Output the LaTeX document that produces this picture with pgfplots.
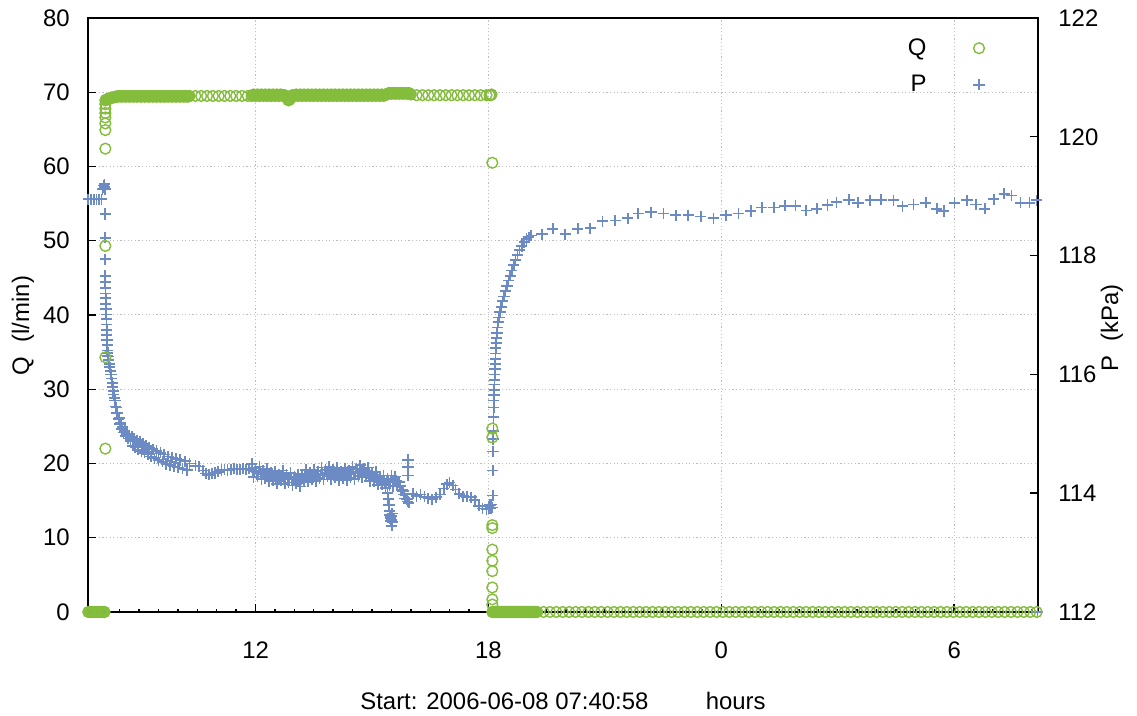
\documentclass[border=0pt]{standalone}
\usepackage{fontspec}
\setmainfont{Liberation Sans}
\usepackage{pgfplots}
\usepackage{pgfplotstable}
\pgfplotsset{compat=1.18}
\definecolor{qgreen}{RGB}{132,189,60}
\definecolor{pblue}{RGB}{108,138,196}
\definecolor{gridgray}{RGB}{190,190,190}

\pgfplotstableread{
h P
7.69 118.95
7.76 118.95
7.83 118.95
7.90 118.95
7.97 118.95
8.03 118.95
8.06 119.12
8.08 119.18
8.10 119.15
8.11 119.20
8.12 119.12
8.125 118.70
8.125 118.30
8.13 117.94
8.13 117.66
8.13 117.55
8.132 117.45
8.136 117.36
8.140 117.28
8.144 117.19
8.148 117.10
8.152 117.01
8.156 116.93
8.160 116.84
8.164 116.75
8.168 116.66
8.172 116.58
8.176 116.49
8.180 116.40
8.185 116.31
8.190 116.36
8.200 116.30
8.215 116.24
8.230 116.18
8.245 116.12
8.260 116.06
8.275 116.00
8.290 115.93
8.305 115.86
8.320 115.79
8.335 115.72
8.350 115.66
8.365 115.60
8.380 115.56
8.395 115.46
8.410 115.44
8.425 115.35
8.445 115.35
8.465 115.25
8.485 115.26
8.505 115.16
8.525 115.18
8.550 115.08
8.575 115.11
8.600 115.02
8.630 115.05
8.660 114.96
8.690 115.00
8.720 114.92
8.750 114.96
8.780 114.88
8.810 114.95
8.840 114.80
8.870 114.92
8.900 114.77
8.940 114.89
8.980 114.73
9.020 114.86
9.060 114.71
9.100 114.83
9.140 114.68
9.180 114.80
9.220 114.65
9.260 114.77
9.300 114.62
9.350 114.74
9.400 114.59
9.450 114.71
9.500 114.56
9.550 114.68
9.600 114.53
9.650 114.65
9.700 114.49
9.750 114.62
9.800 114.47
9.850 114.60
9.900 114.45
9.950 114.58
10.00 114.43
10.06 114.56
10.12 114.41
10.18 114.54
10.24 114.39
10.30 114.50
10.45 114.46
10.55 114.45
10.65 114.38
10.72 114.33
10.80 114.31
10.88 114.33
10.96 114.34
11.04 114.36
11.12 114.39
11.20 114.40
11.28 114.39
11.36 114.40
11.44 114.41
11.52 114.40
11.60 114.40
11.68 114.41
11.76 114.40
11.84 114.41
11.90 114.49
11.95 114.27
12.00 114.42
12.05 114.28
12.10 114.45
12.15 114.24
12.20 114.38
12.25 114.25
12.30 114.41
12.35 114.20
12.40 114.34
12.45 114.21
12.50 114.37
12.55 114.16
12.60 114.32
12.65 114.21
12.70 114.38
12.75 114.16
12.80 114.31
12.85 114.18
12.90 114.34
12.95 114.13
13.00 114.28
13.05 114.16
13.10 114.32
13.15 114.11
13.20 114.29
13.25 114.20
13.30 114.39
13.35 114.19
13.40 114.35
13.45 114.23
13.50 114.40
13.55 114.20
13.60 114.37
13.65 114.25
13.70 114.43
13.75 114.23
13.80 114.39
13.85 114.28
13.90 114.45
13.95 114.24
14.00 114.39
14.05 114.26
14.10 114.43
14.15 114.22
14.20 114.37
14.25 114.25
14.30 114.42
14.35 114.22
14.40 114.38
14.45 114.26
14.50 114.44
14.55 114.24
14.60 114.41
14.65 114.29
14.70 114.47
14.75 114.27
14.80 114.42
14.85 114.28
14.90 114.43
14.95 114.20
15.00 114.34
15.05 114.20
15.10 114.36
15.15 114.14
15.20 114.28
15.25 114.15
15.30 114.30
15.35 114.09
15.40 114.24
15.45 114.13
15.50 114.30
15.55 114.11
15.60 114.28
15.65 114.13
15.70 114.19
15.75 114.05
15.80 114.04
15.85 113.91
15.90 113.90
15.95 113.84
11.925 114.38
11.975 114.37
12.025 114.36
12.075 114.35
12.125 114.34
12.175 114.33
12.225 114.32
12.275 114.31
12.325 114.30
12.375 114.29
12.425 114.28
12.475 114.28
12.525 114.27
12.575 114.27
12.625 114.27
12.675 114.28
12.725 114.27
12.775 114.26
12.825 114.25
12.875 114.24
12.925 114.23
12.975 114.23
13.025 114.23
13.075 114.22
13.125 114.22
13.175 114.23
13.225 114.25
13.275 114.28
13.325 114.29
13.375 114.29
13.425 114.30
13.475 114.30
13.525 114.30
13.575 114.31
13.625 114.32
13.675 114.32
13.725 114.33
13.775 114.33
13.825 114.34
13.875 114.35
13.925 114.35
13.975 114.34
14.025 114.33
14.075 114.33
14.125 114.33
14.175 114.32
14.225 114.32
14.275 114.31
14.325 114.32
14.375 114.32
14.425 114.33
14.475 114.33
14.525 114.34
14.575 114.35
14.625 114.35
14.675 114.36
14.725 114.37
14.775 114.37
14.825 114.35
14.875 114.33
14.925 114.32
14.975 114.30
15.025 114.28
15.075 114.26
15.125 114.25
15.175 114.23
15.225 114.22
15.275 114.21
15.325 114.19
15.375 114.19
15.425 114.19
15.475 114.20
15.525 114.21
15.575 114.22
15.625 114.21
15.675 114.18
15.725 114.12
15.775 114.05
15.825 113.98
15.875 113.91
15.925 113.86
15.40 114.00
15.42 113.90
15.44 113.80
15.45 113.70
15.46 113.63
15.47 113.58
15.48 113.53
15.49 113.61
15.50 113.55
15.51 113.45
15.52 113.66
15.53 113.51
15.93 114.56
15.93 114.44
15.93 114.30
16.05 113.99
16.15 113.95
16.25 113.98
16.35 113.94
16.45 113.91
16.55 113.90
16.65 113.93
16.75 113.98
16.85 114.08
16.93 114.15
17.00 114.18
17.08 114.13
17.15 114.06
17.25 113.99
17.35 113.95
17.45 113.94
17.55 113.93
17.65 113.88
17.75 113.79
17.85 113.74
17.95 113.73
18.00 113.78
18.02 113.74
18.04 113.80
18.06 113.75
18.08 113.81
18.10 113.76
18.11 113.96
18.11 114.38
18.12 114.70
18.12 114.91
18.13 115.05
18.13 115.28
18.14 115.44
18.14 115.56
18.145 115.65
18.15 115.74
18.155 115.83
18.16 115.91
18.165 116.00
18.17 116.09
18.175 116.18
18.18 116.26
18.185 116.35
18.19 116.44
18.20 116.53
18.21 116.61
18.22 116.70
18.23 116.79
18.25 116.88
18.27 116.96
18.30 117.05
18.33 117.14
18.36 117.23
18.40 117.31
18.44 117.40
18.48 117.49
18.52 117.58
18.56 117.66
18.60 117.75
18.65 117.84
18.70 117.93
18.75 118.01
18.80 118.09
18.86 118.16
18.92 118.23
18.98 118.28
19.04 118.31
19.10 118.34
19.38 118.36
19.66 118.45
19.98 118.36
20.30 118.45
20.62 118.46
20.94 118.58
21.27 118.59
21.59 118.63
21.86 118.71
22.19 118.73
22.51 118.71
22.83 118.68
23.15 118.68
23.47 118.66
23.80 118.63
24.12 118.68
24.44 118.71
24.76 118.75
25.04 118.81
25.36 118.81
25.64 118.84
25.91 118.84
26.19 118.76
26.46 118.79
26.74 118.85
26.97 118.90
27.29 118.94
27.52 118.89
27.84 118.93
28.12 118.94
28.44 118.93
28.67 118.83
28.95 118.86
29.27 118.89
29.55 118.79
29.73 118.75
30.01 118.89
30.33 118.93
30.56 118.86
30.79 118.79
31.02 118.95
31.29 119.04
31.48 119.01
31.71 118.89
31.94 118.89
32.12 118.93
32.15 112.00
}\Pdata

\pgfplotstableread{
h Q
7.69 0
7.72 0
7.75 0
7.78 0
7.81 0
7.84 0
7.87 0
7.90 0
7.93 0
7.96 0
7.99 0
8.02 0
8.05 0
8.08 0
8.11 0
8.13 22.0
8.13 34.3
8.13 49.3
8.13 62.4
8.13 64.9
8.13 65.8
8.13 66.6
8.13 67.2
8.13 67.8
8.13 68.4
8.13 68.9
8.15 69.0
8.20 69.1
8.25 69.2
8.30 69.3
8.35 69.3
8.40 69.4
8.45 69.4
8.50 69.5
8.55 69.4
8.60 69.5
8.65 69.4
8.70 69.5
8.75 69.4
8.80 69.5
8.85 69.4
8.90 69.5
8.95 69.4
9.00 69.5
9.05 69.4
9.10 69.5
9.15 69.4
9.20 69.5
9.25 69.4
9.30 69.5
9.35 69.4
9.40 69.5
9.45 69.4
9.50 69.5
9.55 69.4
9.60 69.5
9.65 69.4
9.70 69.5
9.75 69.4
9.80 69.5
9.85 69.4
9.90 69.5
9.95 69.4
10.00 69.5
10.05 69.4
10.10 69.5
10.15 69.4
10.20 69.5
10.25 69.4
10.30 69.5
8.175 69.05
8.225 69.15
8.275 69.25
8.325 69.3
8.375 69.35
8.425 69.45
8.475 69.45
8.525 69.45
8.575 69.45
8.625 69.45
8.675 69.45
8.725 69.45
8.775 69.45
8.825 69.45
8.875 69.45
8.925 69.45
8.975 69.45
9.025 69.45
9.075 69.45
9.125 69.45
9.175 69.45
9.225 69.45
9.275 69.45
9.325 69.45
9.375 69.45
9.425 69.45
9.475 69.45
9.525 69.45
9.575 69.45
9.625 69.45
9.675 69.45
9.725 69.45
9.775 69.45
9.825 69.45
9.875 69.45
9.925 69.45
9.975 69.45
10.025 69.45
10.075 69.45
10.125 69.45
10.175 69.45
10.225 69.45
10.275 69.45
10.45 69.5
10.60 69.5
10.75 69.5
10.90 69.5
11.05 69.5
11.20 69.5
11.35 69.5
11.50 69.5
11.65 69.5
11.80 69.5
11.90 69.5
11.95 69.7
12.00 69.5
12.05 69.7
12.10 69.5
12.15 69.7
12.20 69.5
12.25 69.7
12.30 69.5
12.35 69.7
12.40 69.5
12.45 69.7
12.50 69.5
12.55 69.7
12.60 69.5
12.65 69.7
12.70 69.5
12.75 69.6
12.80 69.3
12.85 68.9
12.90 69.2
12.95 69.6
13.00 69.5
13.05 69.7
13.10 69.5
13.15 69.7
13.20 69.5
13.25 69.7
13.30 69.5
13.35 69.7
13.40 69.5
13.45 69.7
13.50 69.5
13.55 69.7
13.60 69.5
13.65 69.7
13.70 69.5
13.75 69.7
13.80 69.5
13.85 69.7
13.90 69.5
13.95 69.7
14.00 69.5
14.05 69.7
14.10 69.5
14.15 69.7
14.20 69.5
14.25 69.7
14.30 69.5
14.35 69.7
14.40 69.5
14.45 69.7
14.50 69.5
14.55 69.7
14.60 69.5
14.65 69.7
14.70 69.5
14.75 69.7
14.80 69.5
14.85 69.7
14.90 69.5
14.95 69.7
15.00 69.5
15.05 69.7
15.10 69.5
15.15 69.7
15.20 69.5
15.25 69.7
15.30 69.5
15.35 69.7
15.40 69.8
15.45 69.9
15.50 69.8
15.55 69.9
15.60 69.8
15.65 69.9
15.70 69.8
15.75 69.9
15.80 69.8
15.85 69.9
15.90 69.8
15.95 69.9
16.00 69.7
11.925 69.6
11.975 69.6
12.025 69.6
12.075 69.6
12.125 69.6
12.175 69.6
12.225 69.6
12.275 69.6
12.325 69.6
12.375 69.6
12.425 69.6
12.475 69.6
12.525 69.6
12.575 69.6
12.625 69.6
12.675 69.6
12.725 69.6
12.775 69.5
12.825 69.1
12.875 69.0
12.925 69.4
12.975 69.6
13.025 69.6
13.075 69.6
13.125 69.6
13.175 69.6
13.225 69.6
13.275 69.6
13.325 69.6
13.375 69.6
13.425 69.6
13.475 69.6
13.525 69.6
13.575 69.6
13.625 69.6
13.675 69.6
13.725 69.6
13.775 69.6
13.825 69.6
13.875 69.6
13.925 69.6
13.975 69.6
14.025 69.6
14.075 69.6
14.125 69.6
14.175 69.6
14.225 69.6
14.275 69.6
14.325 69.6
14.375 69.6
14.425 69.6
14.475 69.6
14.525 69.6
14.575 69.6
14.625 69.6
14.675 69.6
14.725 69.6
14.775 69.6
14.825 69.6
14.875 69.6
14.925 69.6
14.975 69.6
15.025 69.6
15.075 69.6
15.125 69.6
15.175 69.6
15.225 69.6
15.275 69.6
15.325 69.6
15.375 69.7
15.425 69.85
15.475 69.85
15.525 69.85
15.575 69.85
15.625 69.85
15.675 69.85
15.725 69.85
15.775 69.85
15.825 69.85
15.875 69.85
15.925 69.85
15.975 69.8
16.15 69.6
16.30 69.6
16.45 69.6
16.60 69.6
16.75 69.6
16.90 69.6
17.05 69.6
17.20 69.6
17.35 69.6
17.50 69.6
17.65 69.6
17.80 69.6
17.95 69.6
18.03 69.6
18.06 69.6
18.08 69.7
18.10 60.5
18.10 24.7
18.10 23.5
18.10 11.7
18.10 11.3
18.10 8.4
18.10 6.9
18.10 5.5
18.10 3.3
18.10 1.7
18.10 1.0
18.10 0
18.12 0
18.14 0
18.16 0
18.18 0
18.20 0
18.22 0
18.24 0
18.26 0
18.28 0
18.30 0
18.32 0
18.34 0
18.36 0
18.38 0
18.40 0
18.42 0
18.44 0
18.46 0
18.48 0
18.50 0
18.52 0
18.54 0
18.56 0
18.58 0
18.60 0
18.62 0
18.64 0
18.66 0
18.68 0
18.70 0
18.72 0
18.74 0
18.76 0
18.78 0
18.80 0
18.82 0
18.84 0
18.86 0
18.88 0
18.90 0
18.92 0
18.94 0
18.96 0
18.98 0
19.00 0
19.02 0
19.04 0
19.06 0
19.08 0
19.10 0
19.12 0
19.14 0
19.16 0
19.18 0
19.20 0
19.22 0
19.24 0
19.26 0
19.42 0
19.585 0
19.75 0
19.915 0
20.08 0
20.245 0
20.41 0
20.575 0
20.74 0
20.905 0
21.07 0
21.235 0
21.40 0
21.565 0
21.73 0
21.895 0
22.06 0
22.225 0
22.39 0
22.555 0
22.72 0
22.885 0
23.05 0
23.215 0
23.38 0
23.545 0
23.71 0
23.875 0
24.04 0
24.205 0
24.37 0
24.535 0
24.70 0
24.865 0
25.03 0
25.195 0
25.36 0
25.525 0
25.69 0
25.855 0
26.02 0
26.185 0
26.35 0
26.515 0
26.68 0
26.845 0
27.01 0
27.175 0
27.34 0
27.505 0
27.67 0
27.835 0
28.00 0
28.165 0
28.33 0
28.495 0
28.66 0
28.825 0
28.99 0
29.155 0
29.32 0
29.485 0
29.65 0
29.815 0
29.98 0
30.145 0
30.31 0
30.475 0
30.64 0
30.805 0
30.97 0
31.135 0
31.30 0
31.465 0
31.63 0
31.795 0
31.96 0
32.125 0
}\Qdata

\pgfplotsset{
  base/.style={
    width=475bp, height=297bp, scale only axis,
    xmin=7.683, xmax=32.16,
    font=\fontsize{12}{14}\selectfont,
    tick label style={font=\fontsize{12}{14}\selectfont},
    /pgf/number format/assume math mode=true,
    tick align=inside,
    major tick length=4bp, minor tick length=1.6bp,
    every tick/.style={black, line width=0.7bp},
    axis line style={black, line width=0.7bp},
  }
}

\begin{document}
\begin{tikzpicture}
\begin{axis}[base,
  ymin=0, ymax=80, ytick={0,10,...,80},
  xtick={12,18,24,30}, xticklabels={12,18,0,6},
  minor xtick={8,8.5,...,32},
  xtick pos=left, ytick pos=left,
  grid=major,
  major grid style={gridgray, line width=0.5bp, dash pattern=on 0.6bp off 1.2bp},
  xticklabel style={anchor=center, inner sep=0pt, yshift=-19bp},
  yticklabel style={anchor=east, inner sep=0pt, xshift=-9bp},
  xlabel={Start: 2006-06-08 07:40:58\hspace{2.4em}hours},
  xlabel style={at={(rel axis cs:0.5,-0.1498)}, anchor=center, inner sep=0pt},
  ylabel={Q\hspace{0.6em}(l/min)},
  ylabel style={at={(rel axis cs:-0.0684,0.482)}, anchor=center, inner sep=0pt},
]
\coordinate (bl) at (rel axis cs:0,0);
\coordinate (tr) at (rel axis cs:1,1);
\end{axis}

\begin{axis}[base,
  ymin=112, ymax=122, ytick={112,114,...,122},
  axis y line*=right, axis x line=none,
  yticklabel style={anchor=west, inner sep=0pt, xshift=10bp},
  ylabel={P\hspace{0.6em}(kPa)},
  ylabel style={at={(rel axis cs:1.0779,0.478)}, anchor=center, inner sep=0pt, rotate=0},
  clip=false,
]
\addplot[only marks, mark=+, mark size=2.8bp, pblue, line width=0.85bp] table[x=h,y=P]{\Pdata};
\end{axis}

\begin{axis}[base,
  ymin=0, ymax=80, hide axis, clip=false,
  legend plot pos=right,
  legend cell align=right,
  legend style={at={(rel axis cs:1,1)}, anchor=north east, xshift=-23.5bp, yshift=-6bp,
    draw=none, fill=none, font=\fontsize{12}{14}\selectfont,
    row sep=4.5bp,
    /tikz/every odd column/.append style={column sep=21.5bp}},
]
\addplot[only marks, mark=o, mark size=2.7bp, qgreen, line width=0.7bp] table[x=h,y=Q]{\Qdata};
\addlegendentry{Q}
\addlegendimage{only marks, mark=+, mark size=2.8bp, pblue, line width=0.85bp}
\addlegendentry{P}
\end{axis}

\pgfresetboundingbox
\path ([xshift=-44bp,yshift=-52bp]bl) rectangle ([xshift=49.5bp,yshift=9bp]tr);
\end{tikzpicture}
\end{document}
